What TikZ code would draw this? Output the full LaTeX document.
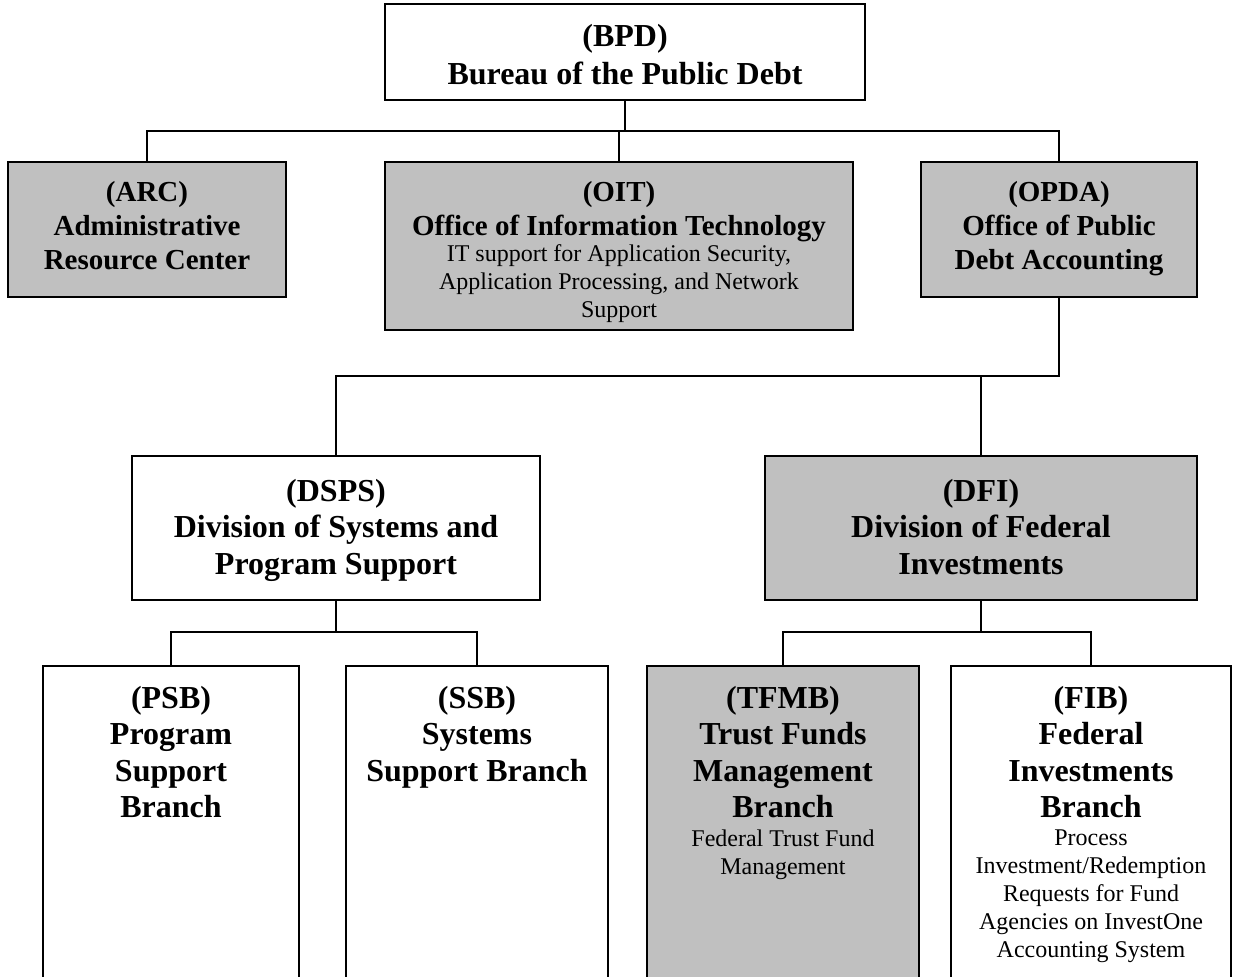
\documentclass[tikz,border=0pt]{standalone}
\usepackage{fontspec}
\setmainfont{Liberation Serif}
\definecolor{boxgray}{HTML}{C0C0C0}
\begin{document}
\begin{tikzpicture}[x=1pt,y=-1pt,
  box/.style={draw=black, line width=1.8pt, fill=white, anchor=north west, inner sep=0pt, outer sep=0pt},
  gbox/.style={box, fill=boxgray},
  conn/.style={draw=black, line width=1.8pt},
  bigt/.style={font=\fontsize{32}{36.5}\selectfont\bfseries, align=center, anchor=base, inner sep=0pt},
  midt/.style={font=\fontsize{29}{34}\selectfont\bfseries, align=center, anchor=base, inner sep=0pt},
  bodyt/.style={font=\fontsize{24}{28}\selectfont, align=center, anchor=base, inner sep=0pt}]
\clip (0,0) rectangle (1235,977);
\useasboundingbox (0,0) rectangle (1235,977);
% boxes
\node[box, minimum width=480pt, minimum height=96pt] (bpd) at (385,4) {};
\node[gbox, minimum width=278pt, minimum height=135pt] (arc) at (8,162) {};
\node[gbox, minimum width=468pt, minimum height=168pt] (oit) at (385,162) {};
\node[gbox, minimum width=276pt, minimum height=135pt] (opda) at (921,162) {};
\node[box, minimum width=408pt, minimum height=144pt] (dsps) at (132,456) {};
\node[gbox, minimum width=432pt, minimum height=144pt] (dfi) at (765,456) {};
\node[box, minimum width=256pt, minimum height=340pt] (psb) at (43,666) {};
\node[box, minimum width=262pt, minimum height=340pt] (ssb) at (346,666) {};
\node[gbox, minimum width=272pt, minimum height=340pt] (tfmb) at (647,666) {};
\node[box, minimum width=280pt, minimum height=340pt] (fib) at (951,666) {};
% connectors
\coordinate (h1) at (0,131);
\coordinate (h2) at (0,376);
\coordinate (h3) at (0,632);
\draw[conn] (bpd.south) -- (bpd.south |- h1);
\draw[conn] (arc.north) |- (h1 -| opda.north) -- (opda.north);
\draw[conn] (oit.north) -- (oit.north |- h1);
\draw[conn] (opda.south) -- (opda.south |- h2) -| (dsps.north);
\draw[conn] (dfi.north) -- (dfi.north |- h2);
\draw[conn] (dsps.south) -- (dsps.south |- h3);
\draw[conn] (psb.north) |- (h3 -| ssb.north) -- (ssb.north);
\draw[conn] (dfi.south) -- (dfi.south |- h3);
\draw[conn] (tfmb.north) |- (h3 -| fib.north) -- (fib.north);
% texts (anchor=base sits on the last line)
\node[bigt, font=\fontsize{32}{38}\selectfont\bfseries] (tbpd) at (625,84) {(BPD)\\Bureau of the Public Debt};
\node[midt] (tarc) at (147,269) {(ARC)\\Administrative\\Resource Center};
\node[midt] (toit) at (619,235) {(OIT)\\Office of Information Technology};
\node[bodyt] (boit) at (619,317) {IT support for Application Security,\\Application Processing, and Network\\Support};
\node[midt] (topda) at (1059,269) {(OPDA)\\Office of Public\\Debt Accounting};
\node[bigt] (tdsps) at (336,574) {(DSPS)\\Division of Systems and\\Program Support};
\node[bigt] (tdfi) at (981,574) {(DFI)\\Division of Federal\\Investments};
\node[bigt] (tpsb) at (171,817.5) {(PSB)\\Program\\Support\\Branch};
\node[bigt] (tssb) at (477,781) {(SSB)\\Systems\\Support Branch};
\node[bigt] (ttfmb) at (783,817.5) {(TFMB)\\Trust Funds\\Management\\Branch};
\node[bodyt] (btfmb) at (783,874) {Federal Trust Fund\\Management};
\node[bigt] (tfib) at (1091,817.5) {(FIB)\\Federal\\Investments\\Branch};
\node[bodyt] (bfib) at (1091,957) {Process\\Investment/Redemption\\Requests for Fund\\Agencies on InvestOne\\Accounting System};
\end{tikzpicture}
\end{document}
